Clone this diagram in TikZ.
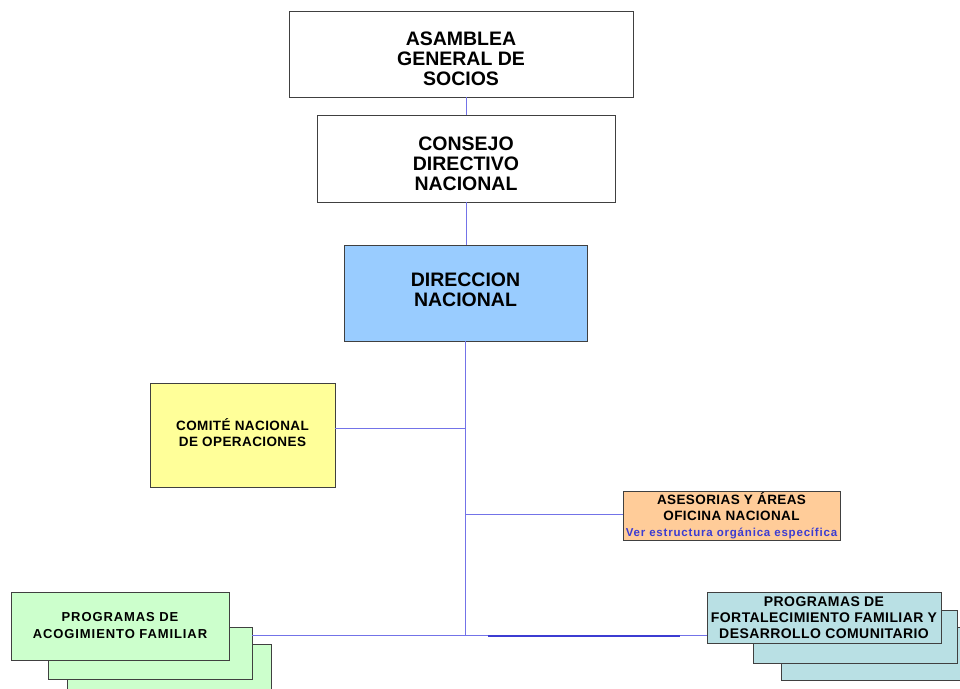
\documentclass[tikz,border=0pt]{standalone}
\usepackage{fontspec}
\setmainfont{Liberation Sans}
\usetikzlibrary{arrows.meta}
\definecolor{dirblue}{RGB}{153,204,255}
\definecolor{comyellow}{RGB}{255,255,153}
\definecolor{asesorange}{RGB}{255,204,153}
\definecolor{acoggreen}{RGB}{204,255,204}
\definecolor{fortteal}{RGB}{185,224,228}
\definecolor{linkblue}{RGB}{60,60,210}
\definecolor{lineblue}{RGB}{115,115,232}

\begin{document}
\begin{tikzpicture}[x=1pt,y=-1pt]
		\useasboundingbox (0,0) rectangle (960,688);
		\begin{scope}[every node/.style={rectangle,draw=black!75,line width=0.8pt,inner sep=0pt,align=center,
		              font=\bfseries\fontsize{19.5}{20}\selectfont}]
			\node[minimum width=344,minimum height=86] (1) at (461,54) {\rule{0pt}{24pt}ASAMBLEA\\GENERAL DE\\SOCIOS};
			\node[minimum width=298,minimum height=87] (2) at (466,158.5) {\rule{0pt}{24pt}CONSEJO\\DIRECTIVO\\NACIONAL};
			\node[minimum width=243,minimum height=96,fill=dirblue] (3) at (465.5,293) {DIRECCION\\NACIONAL\rule[-6pt]{0pt}{6pt}};
			\node[minimum width=185,minimum height=104,fill=comyellow,
			      font=\bfseries\fontsize{13.5}{16}\selectfont\addfontfeatures{LetterSpace=3}] (4) at (242.5,435) {COMITÉ NACIONAL\\DE OPERACIONES\rule[-4pt]{0pt}{4pt}};
			\node[minimum width=217,minimum height=49,fill=asesorange,
			      font=\bfseries\fontsize{13.5}{16}\selectfont\addfontfeatures{LetterSpace=3}] (5) at (731.5,515.5)
			      {ASESORIAS Y ÁREAS\\OFICINA NACIONAL\\{\color{linkblue}\fontsize{11.5}{16}\selectfont\addfontfeatures{LetterSpace=7}Ver estructura orgánica específica}};
			\node[minimum width=204,minimum height=66,fill=acoggreen] (6c) at (169,677) {};
			\node[minimum width=204,minimum height=52,fill=acoggreen] (6b) at (150,653) {};
			\node[minimum width=218,minimum height=68,fill=acoggreen,
			      font=\bfseries\fontsize{13}{17}\selectfont\addfontfeatures{LetterSpace=7}] (6) at (120,626) {PROGRAMAS DE\\ACOGIMIENTO FAMILIAR};
			\node[minimum width=204,minimum height=53,fill=fortteal] (7c) at (883,653.5) {};
			\node[minimum width=204,minimum height=53,fill=fortteal] (7b) at (855,636.5) {};
			\node[minimum width=234,minimum height=51,fill=fortteal,
			      font=\bfseries\fontsize{14}{16}\selectfont\addfontfeatures{LetterSpace=3}] (7) at (824,617.5) {PROGRAMAS DE\\FORTALECIMIENTO FAMILIAR Y\\DESARROLLO COMUNITARIO};
		\end{scope}

		\coordinate (t1) at (465.5,428);
		\coordinate (t2) at (465.5,514);
		\coordinate (t3) at (465.5,635);
		\coordinate (b1) at (488,636);
		\coordinate (b2) at (680,636);

		\begin{scope}[every edge/.style={draw=lineblue,line width=1pt}]
			\path (2.north) edge (2.north |- 1.south);
			\path (2.south) edge (2.south |- 3.north);
			\path (3.south) edge (t3);
			\path (t1) edge (t1 -| 4.east);
			\path (t2) edge (t2 -| 5.west);
			\path (6b.east |- t3) edge (7.west |- t3);
			\path (b1) edge[draw=linkblue,line width=1.6pt] (b2);
		\end{scope}
		\end{tikzpicture}
\end{document}
